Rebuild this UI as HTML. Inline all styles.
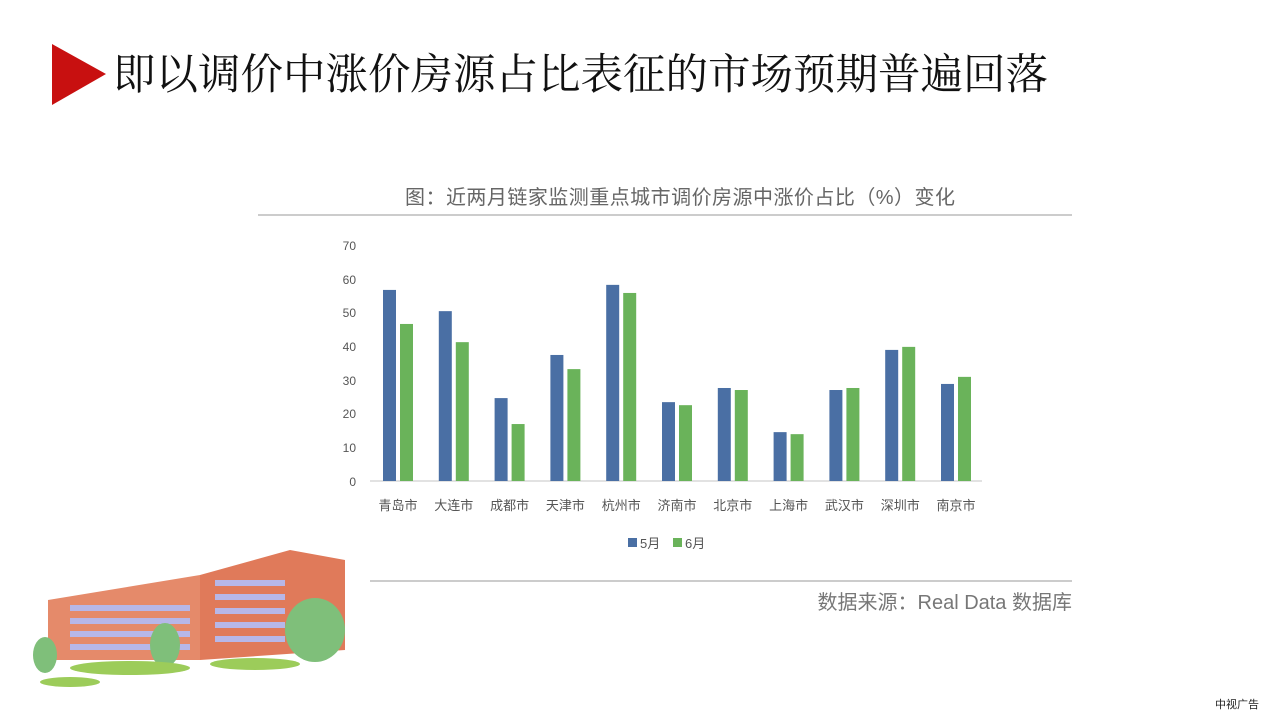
<!DOCTYPE html>
<html><head><meta charset="utf-8"><style>
body{margin:0;width:1280px;height:720px;background:#fff;position:relative;overflow:hidden;font-family:"Liberation Sans","Noto Sans CJK SC",sans-serif}
</style></head><body>
<svg width="1280" height="720" style="position:absolute;left:0;top:0">
<polygon points="52,44 106,74 52,105" fill="#c81010"/>
<text x="113" y="89" font-family="Noto Serif CJK SC, serif" font-size="42.5" fill="#111">即以调价中涨价房源占比表征的市场预期普遍回落</text>
<text x="680" y="204" text-anchor="middle" font-size="20" fill="#666" font-family="Liberation Sans, Noto Sans CJK SC, sans-serif" textLength="550">图：近两月链家监测重点城市调价房源中涨价占比（%）变化</text>
<line x1="258" y1="215" x2="1072" y2="215" stroke="#ccc" stroke-width="2"/>
<line x1="370" y1="581" x2="1072" y2="581" stroke="#ccc" stroke-width="2"/>
<line x1="370" y1="481" x2="982" y2="481" stroke="#d8d8d8" stroke-width="1.5"/>
<g font-size="12" fill="#555" text-anchor="end" font-family="Liberation Sans, sans-serif">
<text x="356" y="250">70</text><text x="356" y="284">60</text><text x="356" y="317">50</text><text x="356" y="351">40</text><text x="356" y="385">30</text><text x="356" y="418">20</text><text x="356" y="452">10</text><text x="356" y="486">0</text>
</g>
<g id="bars"></g>
<rect x="628" y="538" width="9" height="9" fill="#4a6fa4"/><text x="640" y="548" font-size="13" fill="#555">5月</text>
<rect x="673" y="538" width="9" height="9" fill="#6ab35a"/><text x="685" y="548" font-size="13" fill="#555">6月</text>
<text x="1072" y="609" text-anchor="end" font-size="20" fill="#777">数据来源：Real Data 数据库</text>
<rect x="0" y="510" width="350" height="200" fill="#fff"/>
<polygon points="48,600 200,575 200,660 48,660" fill="#e58a6a"/>
<polygon points="200,575 290,550 345,560 345,650 200,660" fill="#e07a5a"/>
<g fill="#b7b7e8">
<rect x="70" y="605" width="120" height="6"/><rect x="70" y="618" width="120" height="6"/><rect x="70" y="631" width="120" height="6"/><rect x="70" y="644" width="120" height="6"/>
<rect x="215" y="580" width="70" height="6"/><rect x="215" y="594" width="70" height="6"/><rect x="215" y="608" width="70" height="6"/><rect x="215" y="622" width="70" height="6"/><rect x="215" y="636" width="70" height="6"/>
</g>
<ellipse cx="45" cy="655" rx="12" ry="18" fill="#7fbf7a"/>
<ellipse cx="165" cy="645" rx="15" ry="22" fill="#7fbf7a"/>
<ellipse cx="315" cy="630" rx="30" ry="32" fill="#7fbf7a"/>
<ellipse cx="130" cy="668" rx="60" ry="7" fill="#9ccc5a"/>
<ellipse cx="255" cy="664" rx="45" ry="6" fill="#9ccc5a"/>
<ellipse cx="70" cy="682" rx="30" ry="5" fill="#9ccc5a"/>
<text x="1237" y="708" text-anchor="middle" font-size="11" fill="#222">中视广告</text>
</svg>
<script>
const b=[56.7,50.4,24.6,37.4,58.2,23.4,27.6,14.5,27,38.9,28.8];
const g=[46.6,41.2,16.9,33.2,55.8,22.5,27,13.9,27.6,39.8,30.9];
const n=["青岛市","大连市","成都市","天津市","杭州市","济南市","北京市","上海市","武汉市","深圳市","南京市"];
let s="";
for(let i=0;i<11;i++){const x=383+i*55.8;
const hb=b[i]*3.37,hg=g[i]*3.37;
s+=`<rect x="${x}" y="${481-hb}" width="13" height="${hb}" fill="#4a6fa4"/>`;
s+=`<rect x="${x+17}" y="${481-hg}" width="13" height="${hg}" fill="#6ab35a"/>`;
s+=`<text x="${x+15}" y="510" text-anchor="middle" font-size="13" fill="#555">${n[i]}</text>`;}
document.getElementById("bars").innerHTML=s;
</script>
</body></html>
